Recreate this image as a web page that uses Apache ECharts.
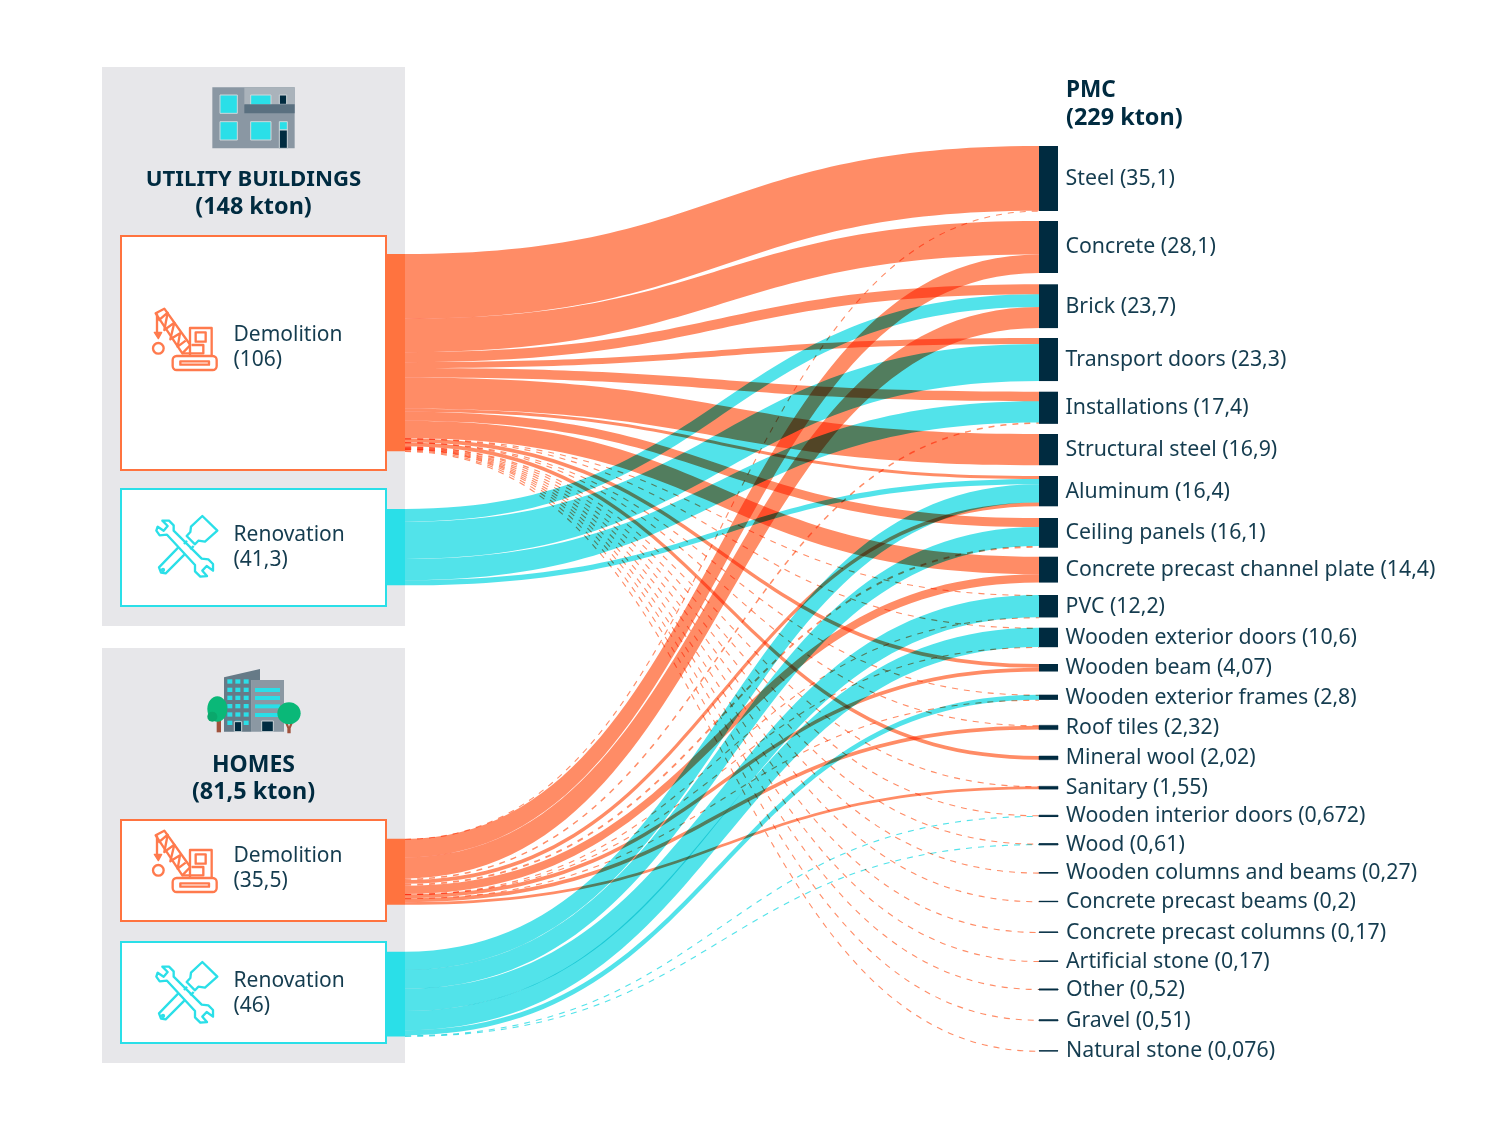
<!DOCTYPE html>
<html><head><meta charset="utf-8">
<style>html,body{margin:0;padding:0;background:#fff}#c{width:1500px;height:1125px}</style>
<script src="https://cdn.jsdelivr.net/npm/echarts@6/dist/echarts.min.js"></script></head>
<body><div id="c"></div>
<script>
const sourceNames=['Utility Demolition','Utility Renovation','Homes Renovation','Homes Demolition'];
const targetNames=['Steel (35,1)','Concrete (28,1)','Brick (23,7)','Transport doors (23,3)','Installations (17,4)','Structural steel (16,9)','Aluminum (16,4)','Ceiling panels (16,1)','Concrete precast channel plate (14,4)','PVC (12,2)','Wooden exterior doors (10,6)','Wooden beam (4,07)','Wooden exterior frames (2,8)','Roof tiles (2,32)','Mineral wool (2,02)','Sanitary (1,55)','Wooden interior doors (0,672)','Wood (0,61)','Wooden columns and beams (0,27)','Concrete precast beams (0,2)','Concrete precast columns (0,17)','Artificial stone (0,17)','Other (0,52)','Gravel (0,51)','Natural stone (0,076)'];
const utilityDemolition=[35.0,18.1,5.4,3.2,5.1,16.9,1.6,4.9,9.5,0.05,0.05,2.0,0.05,0.2,2.02,0.1,0.35,0.25,0.27,0.2,0.17,0.17,0.52,0.51,0.076];
const utilityRenovation=[0,0,6.9,20.1,11.5,0,2.8,0,0,0,0,0,0,0,0,0,0,0,0,0,0,0,0,0,0];
const homesRenovation=[0,0,0,0,0,0,9.9,10.2,0,12.0,10.4,0,2.7,0,0,0,0.32,0.36,0,0,0,0,0,0,0];
const homesDemolition=[0.1,10.0,11.4,0,0.8,0,2.1,1.0,4.5,0.1,0.1,2.07,0.05,2.12,0,1.45,0,0,0,0,0,0,0,0,0];
const flows=[utilityDemolition,utilityRenovation,homesRenovation,homesDemolition];

// Layout (pixel tops of nodes in the page)
const layoutTop=100, layoutHeight=1000;
const sourceTops=[254,509,951.7,838.7];
const targetTops=[146,221,284.3,338,391.7,434,476,518,556.7,595,627.7,664,694.7,725.3,756,786.3,815.3,843.7,872.6,901.3,932,961,989,1019.8,1050.8];

const ORANGE='#ff8c66', TEAL='#52e3ea', ORANGE_NODE='#ff733f', TEAL_NODE='#2adfe8', NAVY='#002b40';
const FONT='"Noto Sans"';
const isOrange=[true,false,false,true];

const nodes=[];
sourceNames.forEach((n,i)=>nodes.push({name:n,localY:(sourceTops[i]-layoutTop)/layoutHeight,
  itemStyle:{color:isOrange[i]?ORANGE_NODE:TEAL_NODE,borderWidth:0},label:{show:false}}));
targetNames.forEach((n,i)=>{
  const small=i>=13;
  nodes.push({name:n,localY:(targetTops[i]-layoutTop)/layoutHeight,
    itemStyle:{color:NAVY,borderColor:NAVY,borderWidth:small?(i>=16?1:0.5):0}});
});
const links=[];
flows.forEach((row,s)=>row.forEach((v,t)=>{
  if(!v) return;
  const c=isOrange[s]?ORANGE:TEAL;
  const dashed=v<=1.0;
  links.push({source:sourceNames[s],target:targetNames[t],value:v,
    lineStyle:dashed?{color:'none',borderColor:c,borderWidth:1.1,borderType:[6,6],opacity:1}:{color:c,opacity:1,borderWidth:0}});
}));

function crane(x,y){
  const st={stroke:'#ff7a4d',fill:'none',lineWidth:7,lineJoin:'round'};
  const poly=(p,close)=>({type:close?'polygon':'polyline',shape:{points:p},style:st});
  return {type:'group',x:x,y:y,scaleX:1/3,scaleY:1/3,children:[
    poly([[32,40],[58,26],[136,135],[112,160]],true),
    poly([[40,62],[68,38],[58,90],[88,68],[76,118],[105,100],[98,140],[122,122]]),
    poly([[36,40],[36,97]]),
    {type:'polygon',shape:{points:[[28,97],[50,97],[40,116]]},style:{stroke:'#ff7a4d',fill:'#ff7a4d',lineWidth:4,lineJoin:'round'}},
    {type:'circle',shape:{cx:40,cy:145,r:16},style:st},
    poly([[135,165],[135,84],[200,84],[200,168]]),
    {type:'rect',shape:{x:152,y:97,width:30,height:28},style:st},
    poly([[112,160],[175,160],[175,135],[140,135]]),
    {type:'rect',shape:{x:83,y:168,width:132,height:42,r:12},style:st},
    {type:'rect',shape:{x:106,y:184,width:86,height:10},style:st}
  ]};
}
function tools(x,y){
  const st={stroke:'#2adfe8',fill:'none',lineWidth:7,lineJoin:'round'};
  const poly=(p,close)=>({type:close?'polygon':'polyline',shape:{points:p},style:st});
  return {type:'group',x:x,y:y,scaleX:1/3,scaleY:1/3,children:[
    poly([[52,32],[68,48],[56,62],[38,50],[34,62],[44,76],[66,74],[150,165],[150,184],[166,200],[186,198],[172,182],[185,168],[204,182],[204,162],[190,148],[170,146],[86,62],[86,46],[72,32]],true),
    poly([[172,18],[217,62],[180,95],[160,92],[150,103],[125,78],[136,66],[138,50]],true),
    poly([[100,112],[42,172],[48,188],[62,190],[118,134]]),
    poly([[126,92],[117,102]]),
    poly([[146,108],[136,118]]),
    {type:'circle',shape:{cx:54,cy:180,r:3},style:st}
  ]};
}
function buildingA(x,y){
  const r=(a,b,c,d,f,s)=>({type:'rect',shape:{x:a,y:b,width:c-a,height:d-b},style:{fill:f,stroke:s||'none',lineWidth:s?3:0}});
  const L='#cfd6da';
  return {type:'group',x:x,y:y,scaleX:1/3,scaleY:1/3,children:[
    r(37,22,284,205,'#8a97a3'),r(133,22,284,75,'#aab3bb'),
    r(60,45,112,100,TEAL_NODE,L),r(152,45,213,75,TEAL_NODE,L),r(60,125,112,180,TEAL_NODE,L),r(152,125,213,180,TEAL_NODE,L),
    r(238,45,260,73,NAVY,L),r(133,73,284,100,'#5a7080'),
    r(238,125,262,150,TEAL_NODE,L),r(238,150,262,205,NAVY,L)
  ]};
}
function buildingB(x,y){
  const r=(a,b,c,d,f,s)=>({type:'rect',shape:{x:a,y:b,width:c-a,height:d-b},style:{fill:f,stroke:s||'none',lineWidth:s?3:0}});
  const kids=[
    {type:'polygon',shape:{points:[[72,37],[180,12],[180,45],[155,45],[155,200],[72,200]]},style:{fill:'#667a87'}},
    r(155,45,252,200,'#8b98a3')
  ];
  [82,106,131].forEach(a=>[43,68,92,117,142,167].forEach(b=>kids.push(r(a,b,a+15,b+13,TEAL_NODE))));
  [69,93,118,144].forEach(b=>kids.push(r(165,b,240,b+12,TEAL_NODE)));
  kids.push(r(103,170,125,200,NAVY,'#cfd6da'),r(185,168,220,200,NAVY,'#cfd6da'));
  kids.push(r(50,160,63,202,'#a0523c'));
  kids.push({type:'polygon',shape:{points:[[254,170],[262,172],[267,185],[272,172],[280,170],[272,190],[272,205],[262,205],[262,190]]},style:{fill:'#a0523c'}});
  kids.push({type:'ellipse',shape:{cx:52,cy:132,rx:30,ry:38},style:{fill:'#0ab878'}});
  kids.push({type:'circle',shape:{cx:37,cy:155,r:15},style:{fill:'#0aa86c'}});
  kids.push({type:'ellipse',shape:{cx:267,cy:145,rx:35,ry:33},style:{fill:'#0ab878'}});
  return {type:'group',x:x,y:y,scaleX:1/3,scaleY:1/3,children:kids};
}
const box=(x,y,w,h,c)=>({type:'rect',shape:{x,y,width:w,height:h},style:{fill:'#fff',stroke:c,lineWidth:2}});
const gray=(x,y,w,h)=>({type:'rect',shape:{x,y,width:w,height:h},style:{fill:'#e7e7ea'}});
const txt=(t,x,y,size,weight,align)=>({type:'text',x,y,style:{text:t,fill:NAVY,font:weight+' '+size+'px '+FONT,textAlign:align||'left',textVerticalAlign:'middle',opacity:weight>=600?1:0.92}});

const graphics=[
  gray(102,67,303,559),gray(102,648,303,415),
  box(121,236,265,234,ORANGE_NODE),box(121,489,265,117,TEAL_NODE),box(121,820,265,101,ORANGE_NODE),box(121,942,265,101,TEAL_NODE),
  buildingA(200,80),buildingB(200,665),
  crane(145,300),tools(145,510),crane(145,822),tools(145,956),
  txt('UTILITY BUILDINGS',253.5,180,22.2,700,'center'),txt('(148 kton)',253.5,207,23.4,700,'center'),
  txt('HOMES',253.5,765,23,700,'center'),txt('(81,5 kton)',253.5,792,23.4,700,'center'),
  txt('Demolition',233.5,335,21,400),txt('(106)',233.5,360,21,400),
  txt('Renovation',233.5,535,21,400),txt('(41,3)',233.5,560,21,400),
  txt('Demolition',233.5,856,21,400),txt('(35,5)',233.5,881,21,400),
  txt('Renovation',233.5,981,21,400),txt('(46)',233.5,1006,21,400),
  txt('PMC',1066,91,22.6,700),txt('(229 kton)',1066,118,23.4,700)
];

const chart=echarts.init(document.getElementById('c'),null,{renderer:'canvas'});
chart.setOption({
  backgroundColor:'#fff',animation:false,
  graphic:{elements:[{type:'group',z:0,silent:true,children:graphics}]},
  series:[{type:'sankey',silent:true,left:386,width:672,top:layoutTop,height:layoutHeight,
    nodeWidth:19,nodeGap:23.98,layoutIterations:0,draggable:false,nodeAlign:'justify',
    emphasis:{disabled:true},
    label:{show:true,position:'right',distance:7.5,offset:[0,0.3],color:NAVY,fontFamily:FONT,fontSize:21.3,opacity:0.92},
    lineStyle:{curveness:0.5},
    data:nodes,links:links}]
});
// bands: multiply blending and edges widened in their steep part; thin flows: one dashed centre line
const SPREAD=0.17;
const zr=chart.getZr();
zr.storage.getDisplayList(true).forEach(el=>{
  if(el.shape && el.shape.cpx1!==undefined && el.shape.extent!==undefined){
    const st=el.style;
    st.blend='multiply';
    if(st.lineDash){
      st.lineWidth=Math.max(1.1,el.shape.extent);
      el.buildPath=function(ctx,s){
        const o=s.extent/2;
        ctx.moveTo(s.x1,s.y1+o);
        ctx.bezierCurveTo(s.cpx1,s.cpy1+o,s.cpx2,s.cpy2+o,s.x2,s.y2+o);
      };
    }else{
      el.buildPath=function(ctx,s){
        const w=s.extent;
        const d=Math.max(-1,Math.min(1,(s.y2-s.y1)/400));
        const sh=SPREAD*w*d;
        ctx.moveTo(s.x1,s.y1);
        ctx.bezierCurveTo(s.cpx1+sh,s.cpy1,s.cpx2+sh,s.cpy2,s.x2,s.y2);
        ctx.lineTo(s.x2,s.y2+w);
        ctx.bezierCurveTo(s.cpx2-sh,s.cpy2+w,s.cpx1-sh,s.cpy1+w,s.x1,s.y1+w);
        ctx.closePath();
      };
    }
    el.dirtyShape&&el.dirtyShape();
    el.dirty&&el.dirty();
  }
});
zr.refresh();
</script></body></html>
